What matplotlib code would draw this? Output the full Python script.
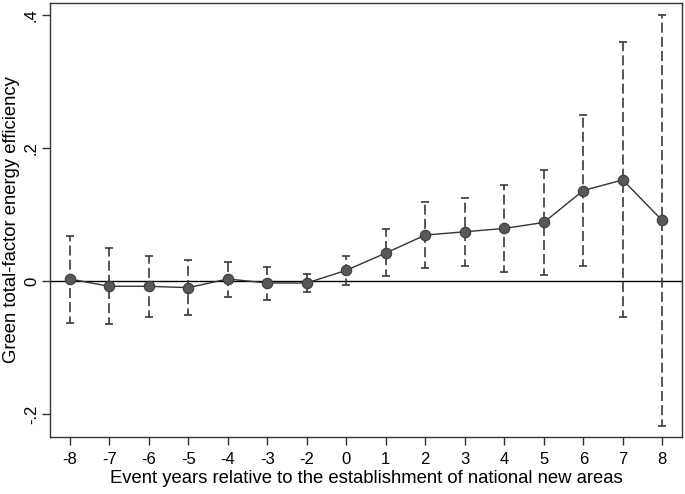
import matplotlib
matplotlib.use("Agg")
import matplotlib.pyplot as plt
import numpy as np

plt.rcParams['font.family'] = ['Liberation Sans', 'DejaVu Sans']

years = ["-8", "-7", "-6", "-5", "-4", "-3", "-2", "0", "1", "2", "3", "4", "5", "6", "7", "8"]
coef = [0.003, -0.008, -0.008, -0.010, 0.003, -0.003, -0.003, 0.016, 0.042, 0.069, 0.074, 0.079, 0.088, 0.136, 0.152, 0.091]
upper = [0.068, 0.049, 0.038, 0.032, 0.029, 0.021, 0.010, 0.038, 0.078, 0.119, 0.125, 0.144, 0.167, 0.249, 0.359, 0.400]
lower = [-0.063, -0.064, -0.054, -0.051, -0.024, -0.028, -0.016, -0.006, 0.007, 0.019, 0.023, 0.013, 0.009, 0.023, -0.054, -0.218]

W, H = 685, 494
fig = plt.figure(figsize=(W / 100, H / 100), dpi=100)
ax = fig.add_axes([50 / W, 1 - 437 / H, 632 / W, 434 / H])

x = np.arange(len(years))
c = np.array(coef)
yerr = np.vstack([c - np.array(lower), np.array(upper) - c])

ax.axhline(0, color='black', lw=1.0, zorder=1)
eb = ax.errorbar(x, c, yerr=yerr, fmt='none', ecolor='#3a3a3a', elinewidth=1.2,
                 capsize=3, capthick=1.2, zorder=2)
for lc in eb[2]:
    lc.set_linestyle((2, (6, 2.5)))
ax.plot(x, c, color='#333333', lw=1.0, marker='o', markersize=7.5,
        markerfacecolor='#585858', markeredgecolor='#3a3a3a', markeredgewidth=0.8, zorder=3)

ax.set_xlim(-0.5, len(years) - 0.5)
ax.set_ylim(-0.2346, 0.418)
ax.set_xticks(x)
ax.set_xticklabels(years, fontsize=12)
ax.set_yticks([-0.2, 0, 0.2, 0.4])
ax.set_yticklabels(['-.2', '0', '.2', '.4'], fontsize=12, rotation=90, va='center')
ax.tick_params(axis='both', direction='out', length=6, width=1, color='#333333')
ax.tick_params(axis='x', pad=4.5)
ax.tick_params(axis='y', pad=2)
for s in ax.spines.values():
    s.set_linewidth(1.0)
    s.set_color('#333333')

fig.text(366 / W, 1 - 483 / H, 'Event years relative to the establishment of national new areas',
         fontsize=13.3, ha='center', va='baseline')
fig.text(20 / W, 1 - 220 / H, 'Green total-factor energy efficiency',
         fontsize=13.3, ha='right', va='center', rotation=90)

fig.savefig('out.png', dpi=100)
